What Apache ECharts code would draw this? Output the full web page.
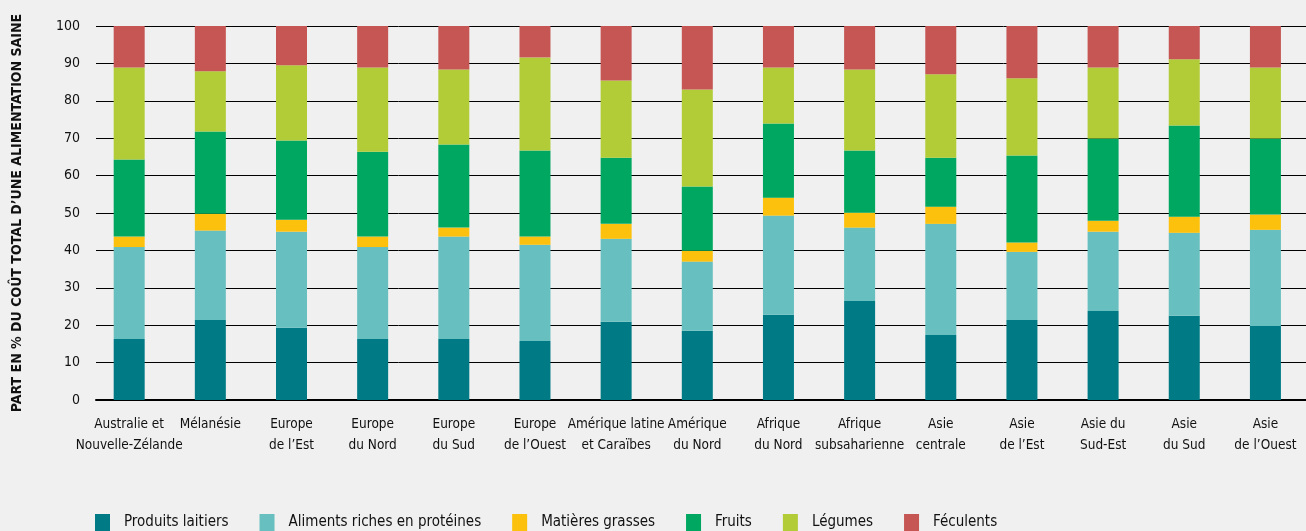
<!DOCTYPE html>
<html><head><meta charset="utf-8">
<script src="https://cdn.jsdelivr.net/npm/echarts@6/dist/echarts.min.js"></script>
<style>html,body{margin:0;padding:0;background:#f0f0f0}#c{width:1306px;height:531px}</style>
</head><body><div id="c"></div>
<script>
const categories = ["Australie et\nNouvelle-Zélande","Mélanésie","Europe\nde l’Est","Europe\ndu Nord","Europe\ndu Sud","Europe\nde l’Ouest","Amérique latine\net Caraïbes","Amérique\ndu Nord","Afrique\ndu Nord","Afrique\nsubsaharienne","Asie\ncentrale","Asie\nde l’Est","Asie du\nSud-Est","Asie\ndu Sud","Asie\nde l’Ouest"];
const dairy   = [16.3,21.4,19.3,16.3,16.3,15.8,20.9,18.5,22.8,26.5,17.4,21.4,23.8,22.5,19.8];
const protein = [24.6,23.9,25.7,24.6,27.4,25.7,22.2,18.5,26.5,19.6,29.7,18.2,21.2,22.2,25.7];
const fats    = [2.8,4.5,3.2,2.8,2.4,2.2,4.0,2.9,4.8,4.0,4.6,2.5,2.9,4.3,4.1];
const fruits  = [20.6,22.0,21.2,22.7,22.2,23.0,17.7,17.2,19.8,16.6,13.1,23.3,22.0,24.4,20.3];
const veg     = [24.6,16.1,20.1,22.5,20.1,24.9,20.6,25.9,15.0,21.7,22.3,20.6,19.0,17.7,19.0];
const starch  = [11.1,12.1,10.5,11.1,11.6,8.4,14.6,17.0,11.1,11.6,12.9,14.0,11.1,8.9,11.1];
const seriesNames = ["Produits laitiers","Aliments riches en protéines","Matières grasses","Fruits","Légumes","Féculents"];
const yTicks = [0,10,20,30,40,50,60,70,80,90,100];

const FONT = "'Liberation Sans Narrow','DejaVu Sans Condensed',sans-serif";
const colors = ['#007b85','#67c0bf','#fcc10d','#00a760','#b1cc37','#c55654'];
const values = [dairy, protein, fats, fruits, veg, starch];

const chart = echarts.init(document.getElementById('c'));
chart.setOption({
  backgroundColor: '#f0f0f0',
  animation: false,
  color: colors,
  grid: [
    {left: 96, right: 0, top: 26, bottom: 131},
    {left: 88.6, width: 1227, top: 26, bottom: 131}
  ],
  legend: {
    left: 95, top: 514, padding: 0, itemWidth: 15, itemHeight: 17, itemGap: 31, icon: 'rect',
    data: seriesNames,
    textStyle: {fontFamily: FONT, fontSize: 15, color: '#111', padding: [0,0,0,9]}
  },
  xAxis: [
    {gridIndex: 0, type: 'category', data: categories,
     axisLine: {lineStyle: {color: '#000', width: 2}}, axisTick: {show: false}, axisLabel: {show: false}},
    {gridIndex: 1, type: 'category', data: categories,
     axisLine: {show: false}, axisTick: {show: false},
     axisLabel: {interval: 0, fontFamily: FONT, fontSize: 13.5, color: '#111', lineHeight: 21, margin: 14}}
  ],
  yAxis: [
    {gridIndex: 0, type: 'value', min: 0, max: 100, interval: 10,
     axisLine: {show: false}, axisTick: {show: false},
     splitLine: {lineStyle: {color: '#000', width: 1}},
     axisLabel: {margin: 16, fontFamily: FONT, fontSize: 14, color: '#111',
       formatter: v => yTicks.includes(v) ? String(v) : ''},
     name: 'PART EN % DU COÛT TOTAL D’UNE ALIMENTATION SAINE',
     nameLocation: 'middle', nameGap: 72, nameRotate: 90,
     nameTextStyle: {fontFamily: FONT, fontSize: 14, fontWeight: 'bold', color: '#111'}},
    {gridIndex: 1, type: 'value', min: 0, max: 100, interval: 10, show: false, splitLine: {show: false}}
  ],
  series: seriesNames.map((n, i) => ({
    name: n, type: 'bar', stack: 'total', xAxisIndex: 1, yAxisIndex: 1,
    barWidth: 31, data: values[i], itemStyle: {color: colors[i]}
  }))
});
</script></body></html>
